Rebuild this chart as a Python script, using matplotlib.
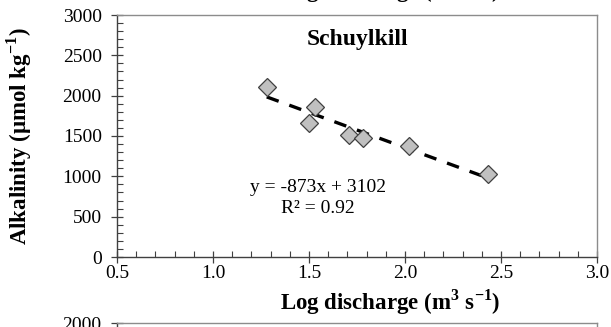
import numpy as np
import matplotlib
matplotlib.use("Agg")
import matplotlib.pyplot as plt
from matplotlib.ticker import MultipleLocator

# Schuylkill: log discharge vs. alkalinity
log_q = [1.28, 1.53, 1.50, 1.71, 1.78, 2.02, 2.43]
alk = [2110, 1856, 1657, 1515, 1470, 1375, 1030]
slope, intercept, r2 = -873, 3102, 0.92

xlabel = r"Log discharge (m$^{\mathbf{3}}$ s$^{\mathbf{-1}}$)"
ylabel = r"Alkalinity (µmol kg$^{\mathbf{-1}}$)"

plt.rcParams["font.family"] = ["Liberation Serif", "DejaVu Serif"]
plt.rcParams["mathtext.fontset"] = "custom"
plt.rcParams["mathtext.rm"] = "Liberation Serif"
plt.rcParams["mathtext.bf"] = "Liberation Serif:bold"

W, H = 611, 327
fig = plt.figure(figsize=(W / 100, H / 100), dpi=100)

def frac(x0, y0, x1, y1):
    # pixel box (top-left origin) -> figure fraction
    return [x0 / W, 1 - y1 / H, (x1 - x0) / W, (y1 - y0) / H]

ax = fig.add_axes(frac(117, 15, 597, 257))


def style_axis(a):
    for side in ("left", "bottom"):
        a.spines[side].set_color("#404040")
        a.spines[side].set_linewidth(1.0)
    for side in ("top", "right"):
        a.spines[side].set_color("#8c8c8c")
        a.spines[side].set_linewidth(1.0)
    a.tick_params(which="major", direction="inout", length=8, width=0.9,
                  color="#404040", labelsize=14)
    a.tick_params(axis="x", which="major", pad=2)
    a.tick_params(axis="y", which="major", pad=7)
    a.tick_params(which="minor", direction="in", length=4, width=0.8,
                  color="#404040")
    a.tick_params(top=False, right=False, which="both")


style_axis(ax)
ax.set_xlim(0.5, 3.0)
ax.set_ylim(0, 3000)
ax.xaxis.set_major_locator(MultipleLocator(0.5))
ax.xaxis.set_minor_locator(MultipleLocator(0.1))
ax.yaxis.set_major_locator(MultipleLocator(500))
ax.yaxis.set_minor_locator(MultipleLocator(100))
ax.xaxis.set_major_formatter(plt.FormatStrFormatter("%.1f"))

# regression line over the data range
xfit = np.array([min(log_q), max(log_q)])
ax.plot(xfit, slope * xfit + intercept, color="black", lw=2.4,
        linestyle=(0, (3.8, 3.4)), zorder=2)
ax.plot(log_q, alk, linestyle="none", marker="D", ms=9.5,
        mfc="#c0c0c0", mec="#404040", mew=0.9, zorder=3)

ax.text(0.5, 0.9, "Schuylkill", transform=ax.transAxes, ha="center",
        va="center", fontsize=17, fontweight="bold")
ax.text(1.545, 970, f"y = {slope}x + {intercept}\nR² = {r2:.2f}",
        ha="center", va="top", fontsize=14, linespacing=1.3)

ax.set_xlabel(xlabel, fontsize=16.5, fontweight="bold")
ax.xaxis.set_label_coords(0.57, -0.125)
ax.set_ylabel(ylabel, fontsize=16.5, fontweight="bold")
ax.yaxis.set_label_coords(-0.172, 0.5)

# neighbouring panels of the multi-panel figure
fig.text(390 / W, 1 + 10 / H, xlabel, ha="center", va="center",
         fontsize=16.5, fontweight="bold")

ax2 = fig.add_axes(frac(117, 323, 597, 565))
style_axis(ax2)
ax2.set_xlim(0.5, 3.0)
ax2.set_ylim(0, 2000)
ax2.yaxis.set_major_locator(MultipleLocator(500))
ax2.yaxis.set_minor_locator(MultipleLocator(100))
ax2.set_xticks([])

fig.savefig("out.png", dpi=100)
